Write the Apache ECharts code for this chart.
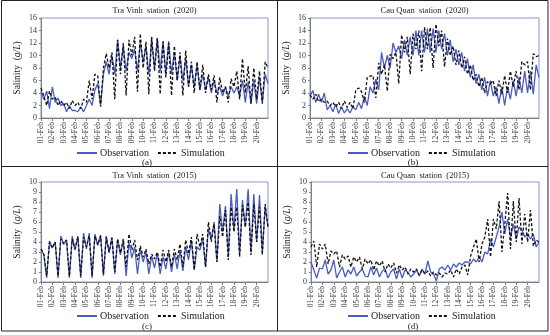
<!DOCTYPE html>
<html><head><meta charset="utf-8">
<script src="https://cdn.jsdelivr.net/npm/echarts@6/dist/echarts.min.js"></script>
<style>html,body{margin:0;padding:0;background:#fff}#c{width:550px;height:335px}</style>
</head><body><div id="c"></div>
<script>
// Day tick labels (one per day, 4 samples per day, 6-hourly)
const dayLabels = ['01-Feb','02-Feb','03-Feb','04-Feb','05-Feb','06-Feb','07-Feb','08-Feb','09-Feb','10-Feb',
  '11-Feb','12-Feb','13-Feb','14-Feb','15-Feb','16-Feb','17-Feb','18-Feb','19-Feb','20-Feb'];
const pointsPerDay = 4;

// (a) Tra Vinh station (2020)
const obsTraVinh2020 = [4.3,3.0,4.3,1.5, 5.0,2.5,3.2,2.0, 2.3,1.0,2.0,1.2, 1.2,1.0,1.8,1.0, 2.0,3.0,2.0,4.5,
  5.5,2.0,7.0,9.0, 7.0,10.0,7.0,12.5, 8.0,11.5,7.5,10.5, 9.5,11.0,7.5,12.0, 9.0,11.5,7.0,12.5,
  8.0,12.7,7.5,12.3, 7.0,12.3,7.0,10.5, 6.0,10.0,6.0,9.5, 5.0,8.5,5.0,8.5, 4.5,7.0,4.5,6.5,
  4.0,6.0,4.0,5.0, 3.5,5.0,3.5,5.0, 4.0,5.0,3.5,6.0, 2.5,5.8,2.3,6.0, 2.3,6.5,2.5,7.0, 5.5];
const simTraVinh2020 = [4.8,3.5,2.0,4.3, 3.0,3.3,2.0,2.8, 2.0,2.5,1.5,2.8, 2.0,2.5,1.5,3.0, 2.5,6.0,3.0,7.0,
  6.8,1.8,8.0,10.3, 8.0,10.5,3.0,12.5, 7.0,12.0,3.6,12.5, 10.0,13.0,4.2,13.5, 8.0,12.2,3.8,13.0,
  7.5,12.8,3.8,12.2, 6.5,12.0,3.6,11.5, 6.0,10.5,3.6,10.8, 5.0,9.0,4.0,9.0, 4.5,8.5,4.0,7.0,
  4.5,6.8,2.5,6.5, 4.0,5.0,2.5,6.3, 5.0,7.5,3.0,9.5, 4.0,8.3,2.3,8.0, 3.0,7.5,2.3,9.0, 8.0];

// (b) Cau Quan station (2020)
const obsCauQuan2020 = [3.5,4.4,2.5,3.8, 2.5,4.0,1.3,2.0, 1.0,2.2,0.7,1.8, 0.8,1.5,0.8,1.8, 1.3,2.5,1.5,3.5,
  2.0,5.0,4.0,6.2, 4.5,10.5,8.0,10.0, 8.0,12.0,10.5,11.5, 9.5,12.5,10.0,13.0, 10.0,14.0,10.0,14.0,
  10.5,14.3,10.5,14.3, 10.5,14.0,11.0,13.5, 10.0,12.5,9.0,11.0, 8.5,10.5,7.5,9.5, 6.5,8.5,5.5,7.0,
  4.5,6.5,3.5,6.0, 3.5,5.0,2.3,5.0, 2.0,5.0,3.0,6.0, 3.5,6.5,4.0,7.5, 4.0,7.5,3.8,8.5, 6.5];
const simCauQuan2020 = [3.7,3.0,3.8,2.6, 3.0,2.5,2.7,2.0, 2.5,1.8,2.5,1.5, 2.7,1.7,2.5,1.5, 4.5,4.8,4.2,2.5,
  6.5,6.7,6.8,3.2, 8.8,7.0,8.5,4.3, 10.2,9.5,10.5,5.5, 13.3,10.5,13.0,7.0, 13.5,11.0,14.0,7.5,
  14.5,11.0,14.5,8.0, 15.0,11.5,14.0,8.2, 12.7,10.0,11.5,8.5, 10.8,8.0,9.8,7.0, 8.5,6.0,7.0,5.0,
  6.5,4.0,5.8,5.5, 6.0,3.5,6.0,3.8, 6.8,4.0,7.5,5.0, 7.5,4.5,9.0,8.5, 9.0,4.5,10.3,9.8, 10.0];

// (c) Tra Vinh station (2015)
const obsTraVinh2015 = [3.3,2.7,0.4,4.1, 3.4,4.0,0.4,4.6, 3.8,4.2,0.4,4.6, 3.2,4.6,0.4,4.9, 3.3,4.9,0.4,4.8,
  3.7,4.7,0.6,4.6, 2.9,4.5,0.8,4.3, 2.7,4.2,0.6,4.0, 2.4,3.5,0.8,3.3, 2.0,3.0,0.8,2.6,
  1.4,2.9,0.8,2.5, 1.3,3.0,1.0,2.8, 1.3,3.2,1.1,3.5, 2.2,4.2,1.2,3.5, 3.2,4.3,1.5,5.3,
  4.3,6.0,2.0,7.8, 5.0,7.6,2.5,8.8, 5.2,9.3,2.8,8.2, 5.5,9.3,3.0,8.8, 4.0,8.7,3.0,7.5, 5.5];
const simTraVinh2015 = [3.3,2.8,0.6,4.0, 3.4,4.0,0.6,4.3, 3.8,4.2,0.6,4.3, 3.3,4.5,0.6,4.5, 3.5,4.6,0.6,4.6,
  3.7,4.6,0.8,4.5, 3.0,4.4,1.0,4.3, 2.9,4.3,1.5,4.8, 3.2,4.2,2.2,3.6, 2.5,3.3,1.8,2.8,
  2.3,3.0,1.5,3.2, 2.0,3.2,1.5,3.3, 2.2,3.8,1.5,4.2, 2.8,4.5,1.2,4.8, 3.5,4.8,1.5,6.0,
  4.0,5.8,2.0,6.6, 4.5,7.2,2.2,7.5, 5.0,7.5,2.5,7.7, 5.5,8.0,2.7,7.8, 4.0,7.5,2.7,7.8, 5.5];

// (d) Cau Quan station (2015)
const obsCauQuan2015 = [2.0,1.2,0.4,1.4, 1.3,2.2,0.8,1.2, 2.2,0.4,1.0,1.5, 0.5,1.2,0.8,1.5, 0.6,1.0,1.3,0.6,
  0.5,1.5,0.7,1.4, 0.5,1.1,1.3,0.4, 1.0,1.3,0.3,1.3, 0.4,1.2,1.0,0.5, 0.8,1.2,0.6,1.3,
  0.8,2.1,1.0,0.8, 0.1,1.3,1.5,1.2, 1.7,1.2,1.8,1.5, 1.9,1.7,2.0,2.0, 1.8,2.3,2.0,2.5,
  2.0,3.0,2.8,4.3, 3.5,4.5,5.5,7.0, 4.8,6.3,4.5,5.8, 4.3,5.5,5.2,4.5, 4.8,4.3,4.8,3.5, 4.0];
const simCauQuan2015 = [3.5,4.1,1.5,3.8, 3.3,3.8,1.8,3.1, 2.8,3.1,1.5,2.7, 2.3,2.6,1.5,2.5, 2.0,2.5,1.3,2.3,
  1.8,2.2,1.2,2.1, 1.6,2.1,1.0,1.8, 1.4,1.9,0.9,1.7, 1.2,1.5,0.8,1.3, 1.0,1.3,0.7,1.2,
  0.8,1.1,0.6,1.0, 0.7,0.9,0.5,0.9, 0.8,1.2,0.5,1.3, 0.8,1.5,1.7,0.7, 2.6,3.5,4.3,2.0,
  3.8,4.5,6.3,2.5, 6.3,5.3,8.1,3.0, 5.8,8.9,3.3,8.1, 4.0,8.4,3.8,6.8, 4.0,7.2,3.6,4.2, 4.0];

const FONT = 'Liberation Serif';
const BLUE = '#4a5cc4';
const cats = obsTraVinh2020.map((_, i) => String(i));
const nDays = dayLabels.length;

const panels = [
  {title:'Tra Vinh  station  (2020)', tag:'(a)', obs:obsTraVinh2020, sim:simTraVinh2020, max:16, interval:2,
   grid:{left:41, top:18, width:227, height:100}, legend:{left:76, top:148}, tagPos:[147,158], titleTop:6},
  {title:'Cau Quan  station  (2020)', tag:'(b)', obs:obsCauQuan2020, sim:simCauQuan2020, max:16, interval:2,
   grid:{left:310, top:18, width:229, height:100}, legend:{left:347, top:148}, tagPos:[413,158], titleTop:6},
  {title:'Tra Vinh  station  (2015)', tag:'(c)', obs:obsTraVinh2015, sim:simTraVinh2015, max:10, interval:1,
   grid:{left:41, top:182, width:227, height:100}, legend:{left:76, top:311}, tagPos:[147,322], titleTop:171},
  {title:'Cau Quan  station  (2015)', tag:'(d)', obs:obsCauQuan2015, sim:simCauQuan2015, max:10, interval:1,
   grid:{left:311, top:182, width:228, height:100}, legend:{left:347, top:311}, tagPos:[413,322], titleTop:171}
];

const showIdx = (idx) => idx % pointsPerDay === 0 && idx / pointsPerDay < nDays;

const option = {
  backgroundColor:'#fff',
  animation:false,
  title: panels.map(p => ({
    text:p.title, left:p.grid.left + p.grid.width/2, top:p.titleTop, textAlign:'center', padding:0,
    textStyle:{fontFamily:FONT, fontSize:8.5, fontWeight:'normal', color:'#222'}
  })),
  legend: panels.map(p => ({
    left:p.legend.left, top:p.legend.top, itemWidth:20, itemHeight:8, itemGap:8, padding:0,
    data:['Observation','Simulation'],
    itemStyle:{opacity:0},
    textStyle:{fontFamily:FONT, fontSize:10, color:'#222', padding:[0,0,0,-2]}
  })),
  grid: panels.map(p => Object.assign({show:true, borderColor:'#8c97c9', borderWidth:1, backgroundColor:'transparent',
    containLabel:false, outerBoundsMode:'none'}, p.grid)),
  xAxis: panels.map((p, k) => ({
    type:'category', gridIndex:k, data:cats, boundaryGap:false,
    axisLine:{lineStyle:{color:'#7f7f7f', width:1}},
    axisTick:{show:true, interval:showIdx, length:3, lineStyle:{color:'#7f7f7f'}},
    axisLabel:{interval:showIdx, rotate:90, margin:4, fontFamily:FONT, fontSize:7.5, color:'#333',
      overflow:'none', width:80, hideOverlap:false,
      formatter:(v, idx) => dayLabels[Math.floor(idx / pointsPerDay)] || ''},
    splitLine:{show:false}
  })),
  yAxis: panels.map((p, k) => ({
    type:'value', gridIndex:k, min:0, max:p.max, interval:p.interval,
    name:'{n|Salinity}  ({i|g/L})', nameLocation:'middle', nameGap:19,
    nameTextStyle:{rich:{n:{fontFamily:FONT, fontSize:9.5, color:'#222'}, i:{fontFamily:FONT, fontSize:9.5, fontStyle:'italic', color:'#222'}}, fontFamily:FONT, fontSize:9.5, color:'#222'},
    axisLine:{show:true, lineStyle:{color:'#7f7f7f'}},
    axisTick:{show:true, length:2, lineStyle:{color:'#7f7f7f'}},
    axisLabel:{fontFamily:FONT, fontSize:8, color:'#333', margin:4},
    splitLine:{show:false}
  })),
  series: panels.flatMap((p, k) => ([
    {name:'Observation', type:'line', xAxisIndex:k, yAxisIndex:k, data:p.obs, symbol:'none',
     lineStyle:{color:BLUE, width:1.3}, itemStyle:{color:BLUE}},
    {name:'Simulation', type:'line', xAxisIndex:k, yAxisIndex:k, data:p.sim, symbol:'none',
     lineStyle:{color:'#111', width:1.3, type:[3,2]}, itemStyle:{color:'#111'}}
  ])),
  graphic: [
    {type:'rect', shape:{x:1.5, y:0.5, width:546.5, height:330.5}, style:{fill:'none', stroke:'#222', lineWidth:1}},
    {type:'line', shape:{x1:1.5, y1:166.5, x2:548, y2:166.5}, style:{stroke:'#222', lineWidth:1.2}},
    {type:'line', shape:{x1:277.5, y1:0.5, x2:277.5, y2:331}, style:{stroke:'#222', lineWidth:1}}
  ].concat(panels.map(p => ({
    type:'text', x:p.tagPos[0], y:p.tagPos[1],
    style:{text:p.tag, fontFamily:FONT, fontSize:9, fill:'#222', align:'center', verticalAlign:'top'}
  })))
};

const chart = echarts.init(document.getElementById('c'));
chart.setOption(option);
</script>
</body></html>
